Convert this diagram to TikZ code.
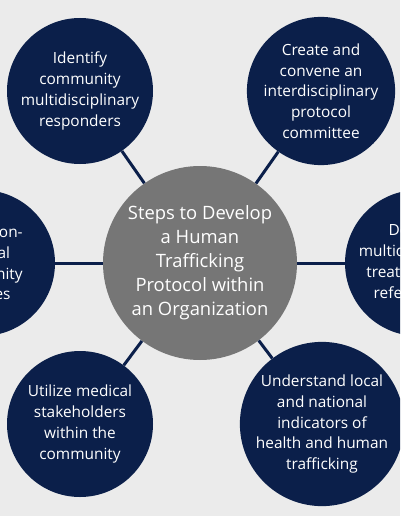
\documentclass[tikz,border=0pt]{standalone}
\usepackage{fontspec}
\setmainfont{Open Sans}
\usepackage{xcolor}
\usepackage{tikz}
\definecolor{navy}{HTML}{0B1F4A}
\definecolor{hubgray}{HTML}{767676}
\definecolor{paper}{HTML}{EBEBEB}

\begin{document}
\begin{tikzpicture}[
    x=1pt, y=-1pt,
    stepcircle/.style={circle, fill=navy, text=white, minimum size=146pt, inner sep=0pt, align=center, font=\fontsize{15.4}{20.7}\selectfont},
    hubcircle/.style={circle, fill=hubgray, text=white, minimum size=194pt, inner sep=0pt, align=center, font=\fontsize{18.4}{24}\selectfont},
    link/.style={draw=navy, line width=3pt}
]
\fill[paper] (0,0) rectangle (400,516);
\clip (0,0) rectangle (400,516);

\node[hubcircle] (hub) at (200,263) {Steps to Develop\\a Human\\Trafficking\\Protocol within\\an Organization};

\node[stepcircle] (responders) at (80,91) {Identify\\community\\multidisciplinary\\responders};
\node[stepcircle] (committee) at (321,91) {Create and\\convene an\\interdisciplinary\\protocol\\committee};
\node[stepcircle] (nonmedical) at (-18,263) {Utilize non-\\medical\\community\\services};
\node[stepcircle] (referral) at (418,263) {Develop\\multidisciplinary\\treatment and\\referral plan};
\node[stepcircle] (stakeholders) at (80,424) {Utilize medical\\stakeholders\\within the\\community};
\node[stepcircle] (indicators) at (322,424) {Understand local\\and national\\indicators of\\health and human\\trafficking};

% spokes
\foreach \outer in {responders,committee,nonmedical,referral,stakeholders,indicators}
    \draw[link] (hub) -- (\outer);
\end{tikzpicture}
\end{document}
